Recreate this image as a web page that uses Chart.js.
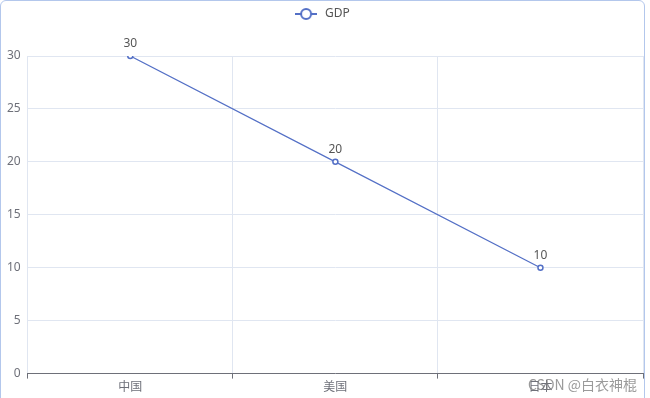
<!DOCTYPE html>
<html>
<head>
<meta charset="utf-8">
<script src="https://cdn.jsdelivr.net/npm/chart.js@4/dist/chart.umd.min.js"></script>
<style>
    html, body { margin: 0; padding: 0; background: #fff; }
    #wrap { position: relative; width: 650px; height: 398px; overflow: hidden; }
    #frame {
        position: absolute; left: 0; top: 0; width: 645px; height: 430px;
        border: 1px solid #b3c7ec; border-radius: 6px; box-sizing: border-box;
    }
    #mark {
        position: absolute; left: 528px; top: 374px;
        font: 14px "Noto Sans CJK SC", "Noto Sans", sans-serif;
        color: rgba(120, 120, 120, 0.75); white-space: nowrap;
    }
</style>
</head>
<body>
<div id="wrap">
    <canvas id="chart" width="650" height="398"></canvas>
    <div id="frame"></div>
    <div id="mark">CSDN @白衣神棍</div>
</div>
<script>
// chart data
const countries = ['中国', '美国', '日本'];
const gdpValues = [30, 20, 10];
const yTicks = [0, 5, 10, 15, 20, 25, 30];

const lineColor = '#5470c6';
const textColor = '#6e7079';

// ECharts-like legend icon: line with hollow circle
const icon = document.createElement('canvas');
icon.width = 22;
icon.height = 14;
const ictx = icon.getContext('2d');
ictx.strokeStyle = lineColor;
ictx.lineWidth = 2;
ictx.beginPath();
ictx.moveTo(0, 7);
ictx.lineTo(22, 7);
ictx.stroke();
ictx.fillStyle = '#fff';
ictx.beginPath();
ictx.arc(11, 7, 5, 0, Math.PI * 2);
ictx.fill();
ictx.stroke();

// value labels above points
const valueLabels = {
    id: 'valueLabels',
    afterDatasetsDraw(chart) {
        const ctx = chart.ctx;
        const meta = chart.getDatasetMeta(0);
        ctx.save();
        ctx.font = '12px "Noto Sans", sans-serif';
        ctx.fillStyle = '#555';
        ctx.textAlign = 'center';
        ctx.textBaseline = 'bottom';
        meta.data.forEach((pt, i) => {
            ctx.fillText(String(gdpValues[i]), pt.x, pt.y - 6);
        });
        ctx.restore();
    }
};

// push the plot area down below the legend
const legendGap = {
    id: 'legendGap',
    beforeInit(chart) {
        const fit = chart.legend.fit;
        chart.legend.fit = function() {
            fit.call(this);
            this.height += 26;
        };
    }
};

new Chart(document.getElementById('chart'), {
    type: 'line',
    data: {
        labels: countries,
        datasets: [{
            label: 'GDP',
            data: gdpValues,
            borderColor: lineColor,
            borderWidth: 1.2,
            pointBackgroundColor: '#fff',
            pointBorderColor: lineColor,
            pointBorderWidth: 1.5,
            pointRadius: 2.5,
            tension: 0,
            fill: false
        }]
    },
    options: {
        responsive: false,
        animation: false,
        layout: {
            padding: { left: 0, right: 7, top: 0, bottom: 3 }
        },
        scales: {
            x: {
                offset: true,
                grid: {
                    offset: true,
                    color: '#e0e6f1',
                    tickColor: textColor,
                    tickLength: 5,
                    drawTicks: true
                },
                border: { color: textColor, width: 1 },
                ticks: {
                    color: textColor,
                    font: { size: 12, family: '"Noto Sans CJK SC", sans-serif' },
                    padding: 1,
                    maxRotation: 0
                }
            },
            y: {
                min: 0,
                max: 30,
                afterBuildTicks(axis) {
                    axis.ticks = yTicks.map(v => ({ value: v }));
                },
                grid: {
                    color: '#e0e6f1',
                    drawTicks: false
                },
                border: { display: false },
                ticks: {
                    color: textColor,
                    font: { size: 12, family: '"Noto Sans", sans-serif' },
                    padding: 7
                }
            }
        },
        plugins: {
            legend: {
                position: 'top',
                labels: {
                    usePointStyle: true,
                    pointStyle: icon,
                    pointStyleWidth: 26,
                    color: '#555',
                    font: { size: 12, family: '"Noto Sans", sans-serif' },
                    padding: 8
                }
            },
            tooltip: { enabled: false }
        }
    },
    plugins: [valueLabels, legendGap]
});
</script>
</body>
</html>
